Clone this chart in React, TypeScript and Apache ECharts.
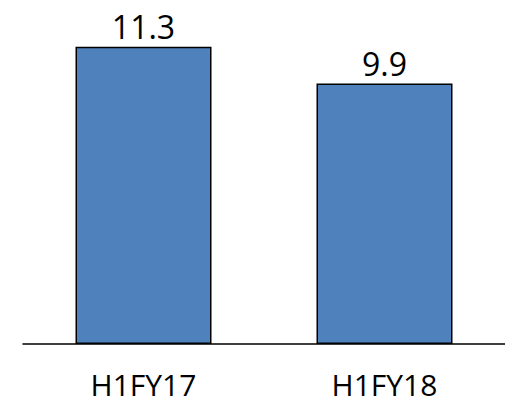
import React, { useEffect, useRef } from "react";
import * as echarts from "echarts";

const categories = ["H1FY17", "H1FY18"];
const values = [11.3, 9.9];

export default function App() {
  const ref = useRef<HTMLDivElement>(null);
  useEffect(() => {
    if (!ref.current) return;
    const chart = echarts.init(ref.current, null, { renderer: "svg" });
    chart.setOption({
      animation: false,
      grid: { left: 23, right: -3, top: 2, bottom: 60, containLabel: false },
      xAxis: {
        type: "category",
        data: categories,
        axisLine: { show: true, lineStyle: { color: "#000", width: 1.5 } },
        axisTick: { show: false },
        axisLabel: {
          color: "#000",
          fontSize: 30,
          lineHeight: 30,
          fontFamily: "Open Sans",
          margin: 25,
        },
      },
      yAxis: {
        type: "value",
        min: 0,
        max: 13,
        show: false,
        splitLine: { show: false },
      },
      series: [
        {
          type: "bar",
          data: values,
          barWidth: 136,
          itemStyle: { color: "#4F81BD", borderColor: "#000", borderWidth: 1.5 },
          label: {
            show: true,
            position: "top",
            distance: 4,
            color: "#000",
            fontSize: 32,
            fontFamily: "Open Sans",
            formatter: (p: any) => p.value.toFixed(1),
          },
        },
      ],
    });
    return () => chart.dispose();
  }, []);
  return (
    <div
      ref={ref}
      style={{ position: "fixed", left: 0, top: 0, width: 505, height: 404, background: "#fff" }}
    />
  );
}
